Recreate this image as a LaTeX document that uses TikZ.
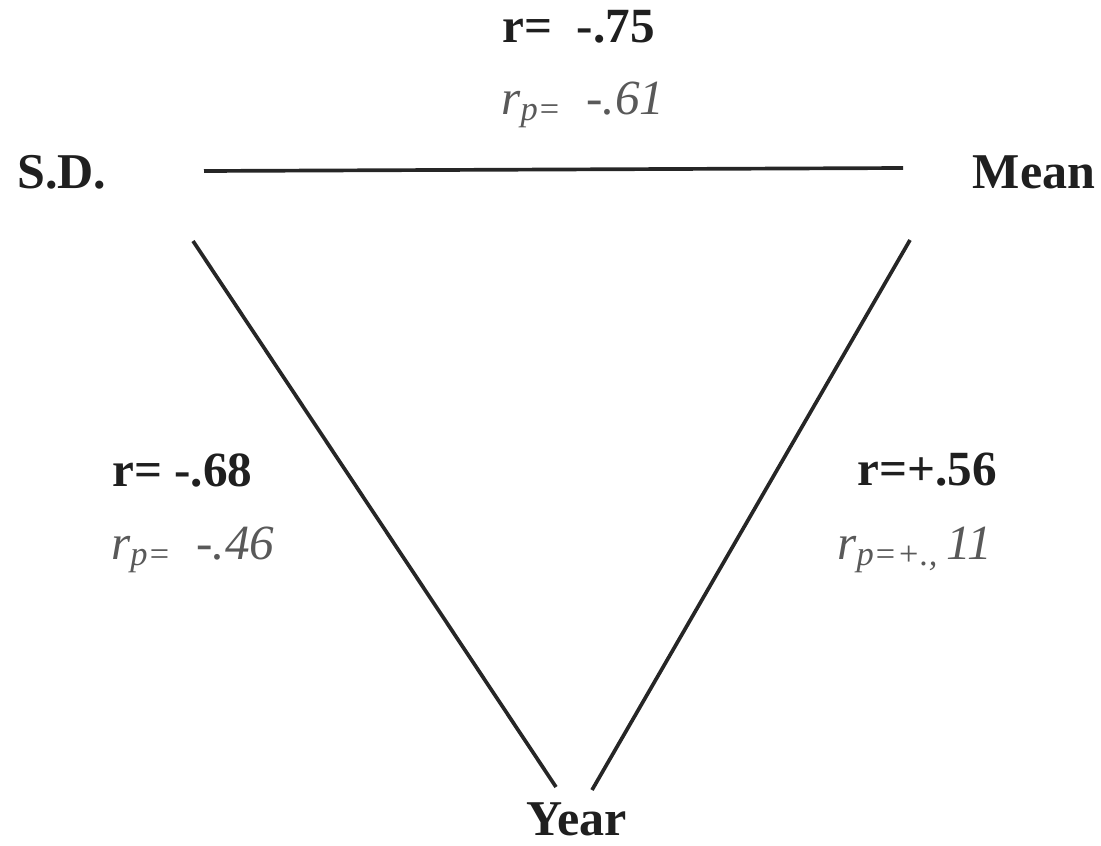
\documentclass[tikz,border=0pt]{standalone}
\usepackage{fontspec}
\setmainfont{Liberation Serif}
\begin{document}
\begin{tikzpicture}[x=0.02cm,y=-0.02cm,
  lbl/.style={font=\fontsize{28.5}{32}\selectfont\bfseries, text=black!88, inner sep=0pt},
  rval/.style={font=\fontsize{28}{32}\selectfont\bfseries, text=black!88, inner sep=0pt},
  pval/.style={font=\fontsize{28}{32}\selectfont\itshape, text=black!65, inner sep=0pt},
  edge/.style={line width=2.1pt, draw=black!85}]
\useasboundingbox (0,0) rectangle (1101,845);
\node[lbl] (sd) at (62,172) {S.D.};
\node[lbl] (mean) at (1034,172) {Mean};
\node[lbl] (year) at (577,819) {Year};
\coordinate (sdA) at (204,171);
\coordinate (meanA) at (903,168);
\coordinate (sdB) at (193,241);
\coordinate (yearL) at (556,787);
\coordinate (meanB) at (910,240);
\coordinate (yearR) at (592,790);
\draw[edge] (sdA) -- (meanA);
\draw[edge] (sdB) -- (yearL);
\draw[edge] (meanB) -- (yearR);
\node[rval, anchor=west] (r1) at (502,27) {r=\ \ -.75};
\node[pval, anchor=west] (p1) at (501,105) {r\textsubscript{p=}\ \ -.61};
\node[rval, anchor=west] (r2) at (112,470) {r= -.68};
\node[pval, anchor=west] (p2) at (111,550) {r\textsubscript{p=}\ \ -.46};
\node[rval, anchor=west] (r3) at (857,470) {r=+.56};
\node[pval, anchor=west] (p3) at (837,550) {r\textsubscript{p=+.,}\,11};
\end{tikzpicture}
\end{document}
